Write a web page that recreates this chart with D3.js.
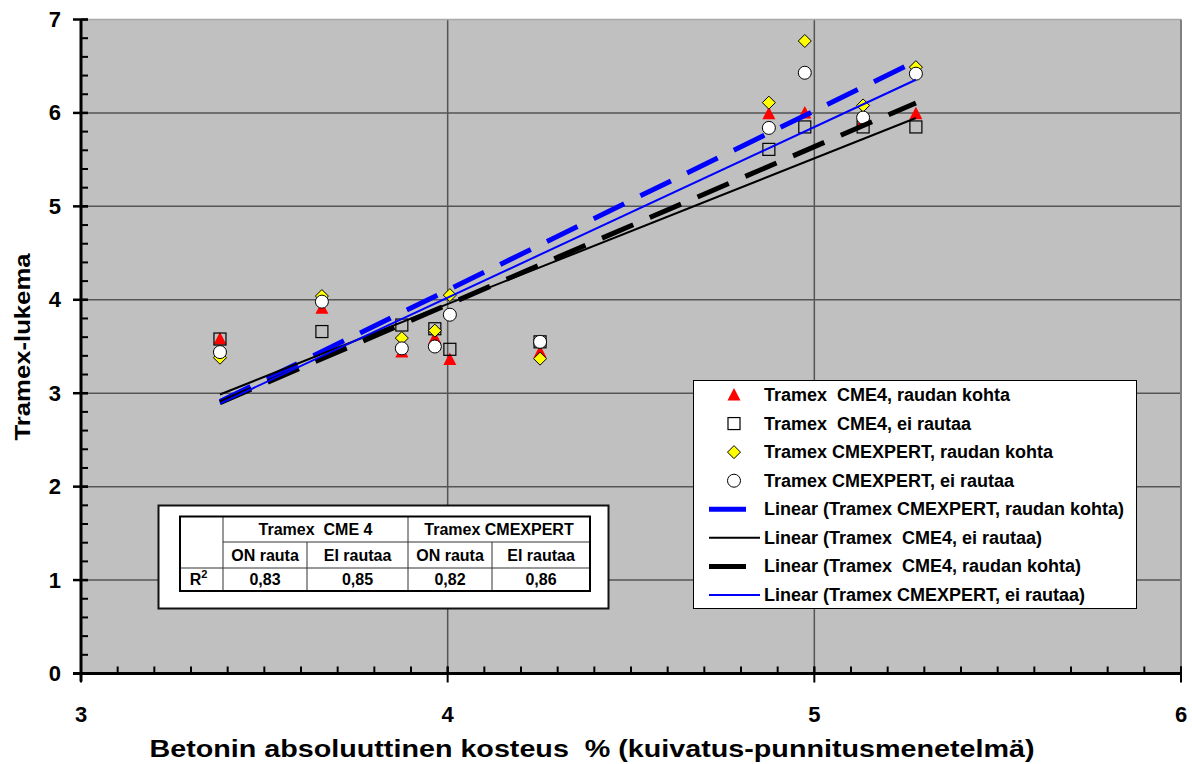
<!DOCTYPE html>
<html>
<head>
<meta charset="utf-8">
<script src="https://cdn.jsdelivr.net/npm/d3@7"></script>
<style>
  body { margin: 0; background: #fff; }
  text { font-family: "Liberation Sans", Arial, sans-serif; font-weight: bold; fill: #000; white-space: pre; }
</style>
</head>
<body>
<svg id="chart" width="1192" height="764"></svg>
<script>
// mittaustulokset
const moisture = [3.379, 3.657, 3.875, 3.965, 4.006, 4.252, 4.876, 4.974, 5.133, 5.277];
const cme4Iron = [3.58, 3.91, 3.44, 3.59, 3.36, 3.44, 5.99, 6.00, 5.92, 5.99];
const cme4NoIron = [3.58, 3.66, 3.73, 3.69, 3.47, 3.55, 5.61, 5.85, 5.85, 5.85];
const expertIron = [3.38, 4.04, 3.59, 3.67, 4.05, 3.37, 6.11, 6.77, 6.08, 6.49];
const expertNoIron = [3.44, 3.98, 3.48, 3.50, 3.84, 3.55, 5.84, 6.43, 5.95, 6.42];

const xTicks = [3, 4, 5, 6];
const yTicks = [0, 1, 2, 3, 4, 5, 6, 7];

// R2-taulukko
const tableGroups = ['Tramex  CME 4', 'Tramex CMEXPERT'];
const tableSub = ['ON rauta', 'EI rautaa', 'ON rauta', 'EI rautaa'];
const r2Values = ['0,83', '0,85', '0,82', '0,86'];

const svg = d3.select('#chart');

const x = d3.scaleLinear().domain([3, 6]).range([81, 1181]);
const y = d3.scaleLinear().domain([0, 7]).range([673.5, 19.5]);

// piirtoalue
svg.append('rect')
    .attr('x', x(3)).attr('y', y(7))
    .attr('width', x(6) - x(3)).attr('height', y(0) - y(7))
    .attr('fill', '#c0c0c0');

// ruudukko
const grid = svg.append('g');
grid.selectAll('.hgrid')
    .data(yTicks.filter(d => d > 0 && d < 7))
    .enter().append('line')
    .attr('x1', x(3)).attr('x2', x(6))
    .attr('y1', d => y(d)).attr('y2', d => y(d))
    .attr('stroke', '#555').attr('stroke-width', 1.5);
grid.selectAll('.vgrid')
    .data(xTicks.filter(d => d > 3 && d < 6))
    .enter().append('line')
    .attr('y1', y(0)).attr('y2', y(7))
    .attr('x1', d => x(d)).attr('x2', d => x(d))
    .attr('stroke', '#555').attr('stroke-width', 1.5);
// reunat
svg.append('line')
    .attr('x1', x(3)).attr('x2', x(6)).attr('y1', y(7)).attr('y2', y(7))
    .attr('stroke', '#a8a8a8').attr('stroke-width', 1.5);
svg.append('line')
    .attr('x1', x(6)).attr('x2', x(6)).attr('y1', y(7)).attr('y2', y(0))
    .attr('stroke', '#808080').attr('stroke-width', 2);

// R2 taulukko
const tb = svg.append('g');
tb.append('rect')
    .attr('x', 158.5).attr('y', 505.5).attr('width', 450).attr('height', 103)
    .attr('fill', '#fff').attr('stroke', '#111').attr('stroke-width', 2);

const colX = [180, 223, 307, 408, 492, 590];
const rowY = [516.5, 542, 568, 591];
tb.append('line').attr('x1', colX[1]).attr('x2', colX[5]).attr('y1', rowY[1]).attr('y2', rowY[1])
    .attr('stroke', '#333').attr('stroke-width', 1);
tb.append('line').attr('x1', colX[0]).attr('x2', colX[5]).attr('y1', rowY[2]).attr('y2', rowY[2])
    .attr('stroke', '#333').attr('stroke-width', 1);
[colX[1], colX[3]].forEach(cx => {
    tb.append('line').attr('x1', cx).attr('x2', cx).attr('y1', rowY[0]).attr('y2', rowY[3])
        .attr('stroke', '#333').attr('stroke-width', 1);
});
[colX[2], colX[4]].forEach(cx => {
    tb.append('line').attr('x1', cx).attr('x2', cx).attr('y1', rowY[1]).attr('y2', rowY[3])
        .attr('stroke', '#333').attr('stroke-width', 1);
});
tb.append('rect')
    .attr('x', colX[0]).attr('y', rowY[0])
    .attr('width', colX[5] - colX[0]).attr('height', rowY[3] - rowY[0])
    .attr('fill', 'none').attr('stroke', '#000').attr('stroke-width', 2);

tb.selectAll('.grp').data(tableGroups).enter().append('text')
    .attr('x', (d, i) => (colX[1 + i * 2] + colX[3 + i * 2]) / 2)
    .attr('y', (rowY[0] + rowY[1]) / 2 + 5.5)
    .attr('text-anchor', 'middle').style('font-size', '16px')
    .text(d => d);
tb.selectAll('.sub').data(tableSub).enter().append('text')
    .attr('x', (d, i) => (colX[1 + i] + colX[2 + i]) / 2)
    .attr('y', (rowY[1] + rowY[2]) / 2 + 5.5)
    .attr('text-anchor', 'middle').style('font-size', '16px')
    .text(d => d);
tb.selectAll('.r2').data(r2Values).enter().append('text')
    .attr('x', (d, i) => (colX[1 + i] + colX[2 + i]) / 2)
    .attr('y', (rowY[2] + rowY[3]) / 2 + 5.5)
    .attr('text-anchor', 'middle').style('font-size', '16px')
    .text(d => d);
const r2Label = tb.append('text')
    .attr('x', (colX[0] + colX[1]) / 2 - 3)
    .attr('y', (rowY[2] + rowY[3]) / 2 + 5.5)
    .attr('text-anchor', 'middle').style('font-size', '16px');
r2Label.append('tspan').text('R');
r2Label.append('tspan').attr('dy', -7).style('font-size', '11px').text('2');

// sarjat
const series = [
    { name: 'Tramex  CME4, raudan kohta', values: cme4Iron, marker: 'triangle' },
    { name: 'Tramex  CME4, ei rautaa', values: cme4NoIron, marker: 'square' },
    { name: 'Tramex CMEXPERT, raudan kohta', values: expertIron, marker: 'diamond' },
    { name: 'Tramex CMEXPERT, ei rautaa', values: expertNoIron, marker: 'circle' }
];

function drawMarker(g, type, cx, cy) {
    if (type === 'triangle') {
        g.append('path')
            .attr('d', `M${cx},${cy - 7}L${cx + 6.5},${cy + 5.5}L${cx - 6.5},${cy + 5.5}Z`)
            .attr('fill', '#ff0000');
    } else if (type === 'square') {
        g.append('rect')
            .attr('x', cx - 6).attr('y', cy - 6).attr('width', 12).attr('height', 12)
            .attr('fill', 'none').attr('stroke', '#000').attr('stroke-width', 1.2);
    } else if (type === 'diamond') {
        g.append('path')
            .attr('d', `M${cx},${cy - 6.5}L${cx + 6.5},${cy}L${cx},${cy + 6.5}L${cx - 6.5},${cy}Z`)
            .attr('fill', '#ffff00').attr('stroke', '#000').attr('stroke-width', 1);
    } else {
        g.append('circle')
            .attr('cx', cx).attr('cy', cy).attr('r', 6.5)
            .attr('fill', '#fff').attr('stroke', '#000').attr('stroke-width', 1);
    }
}

const pts = svg.append('g');
series.forEach(s => {
    s.values.forEach((v, i) => drawMarker(pts, s.marker, x(moisture[i]), y(v)));
});

// lineaariset trendiviivat
function linearFit(xs, ys) {
    const mx = d3.mean(xs), my = d3.mean(ys);
    const sxy = d3.sum(xs, (d, i) => (d - mx) * (ys[i] - my));
    const sxx = d3.sum(xs, d => (d - mx) * (d - mx));
    const b = sxy / sxx;
    return { a: my - b * mx, b };
}

const trends = [
    { name: 'Linear (Tramex CMEXPERT, raudan kohta)', values: expertIron, color: '#0000ff', width: 5, dash: '34,18' },
    { name: 'Linear (Tramex  CME4, ei rautaa)', values: cme4NoIron, color: '#000', width: 2, dash: null },
    { name: 'Linear (Tramex  CME4, raudan kohta)', values: cme4Iron, color: '#000', width: 5, dash: '34,18' },
    { name: 'Linear (Tramex CMEXPERT, ei rautaa)', values: expertNoIron, color: '#0000ff', width: 2, dash: null }
];

const [xMin, xMax] = d3.extent(moisture);
const trendLayer = svg.append('g');
trends.forEach(t => {
    const fit = linearFit(moisture, t.values);
    trendLayer.append('line')
        .attr('x1', x(xMin)).attr('y1', y(fit.a + fit.b * xMin))
        .attr('x2', x(xMax)).attr('y2', y(fit.a + fit.b * xMax))
        .attr('stroke', t.color).attr('stroke-width', t.width)
        .attr('stroke-dasharray', t.dash);
});

// akselit
const axes = svg.append('g');
axes.append('line').attr('x1', x(3)).attr('x2', x(3)).attr('y1', y(7)).attr('y2', y(0) + 8)
    .attr('stroke', '#000').attr('stroke-width', 3);
axes.append('line').attr('x1', x(3) - 8).attr('x2', x(6)).attr('y1', y(0)).attr('y2', y(0))
    .attr('stroke', '#000').attr('stroke-width', 3);

axes.selectAll('.ymin').data(d3.range(0, 7.001, 0.2)).enter().append('line')
    .attr('x1', x(3)).attr('x2', x(3) + 7)
    .attr('y1', d => y(d)).attr('y2', d => y(d))
    .attr('stroke', '#000').attr('stroke-width', 2);
axes.selectAll('.ymaj').data(yTicks).enter().append('line')
    .attr('x1', x(3) - 8).attr('x2', x(3) + 7)
    .attr('y1', d => y(d)).attr('y2', d => y(d))
    .attr('stroke', '#000').attr('stroke-width', 2.5);
axes.selectAll('.xmin').data(d3.range(3, 6.001, 0.1)).enter().append('line')
    .attr('x1', d => x(d)).attr('x2', d => x(d))
    .attr('y1', y(0)).attr('y2', y(0) - 7)
    .attr('stroke', '#000').attr('stroke-width', 2);
axes.selectAll('.xmaj').data(xTicks).enter().append('line')
    .attr('x1', d => x(d)).attr('x2', d => x(d))
    .attr('y1', y(0) - 7).attr('y2', y(0) + 9)
    .attr('stroke', '#000').attr('stroke-width', 2);

axes.selectAll('.ylab').data(yTicks).enter().append('text')
    .attr('x', 61).attr('y', d => y(d) + 7.5)
    .attr('text-anchor', 'end').style('font-size', '22px')
    .text(d => d);
axes.selectAll('.xlab').data(xTicks).enter().append('text')
    .attr('x', d => x(d)).attr('y', 722)
    .attr('text-anchor', 'middle').style('font-size', '22px')
    .text(d => d);

svg.append('text')
    .attr('x', 592).attr('y', 757)
    .attr('text-anchor', 'middle').style('font-size', '23px')
    .attr('textLength', 885).attr('lengthAdjust', 'spacingAndGlyphs')
    .text('Betonin absoluuttinen kosteus  % (kuivatus-punnitusmenetelmä)');
svg.append('text')
    .attr('transform', 'translate(30,347) rotate(-90)')
    .attr('text-anchor', 'middle').style('font-size', '22px')
    .attr('textLength', 187).attr('lengthAdjust', 'spacingAndGlyphs')
    .text('Tramex-lukema');

// selite
const lg = svg.append('g');
lg.append('rect')
    .attr('x', 693.5).attr('y', 380.5).attr('width', 443).attr('height', 228)
    .attr('fill', '#fff').attr('stroke', '#000').attr('stroke-width', 1);
const rowStep = 28.57;
series.forEach((s, i) => {
    const cy = 395 + i * rowStep;
    drawMarker(lg, s.marker, 734, cy);
    lg.append('text').attr('x', 764).attr('y', cy + 6).style('font-size', '18px').text(s.name);
});
trends.forEach((t, i) => {
    const cy = 395 + (i + 4) * rowStep;
    lg.append('line')
        .attr('x1', 709).attr('x2', t.width > 3 ? 746 : 760)
        .attr('y1', cy).attr('y2', cy)
        .attr('stroke', t.color).attr('stroke-width', t.width);
    lg.append('text').attr('x', 764).attr('y', cy + 6).style('font-size', '18px').text(t.name);
});
</script>
</body>
</html>
